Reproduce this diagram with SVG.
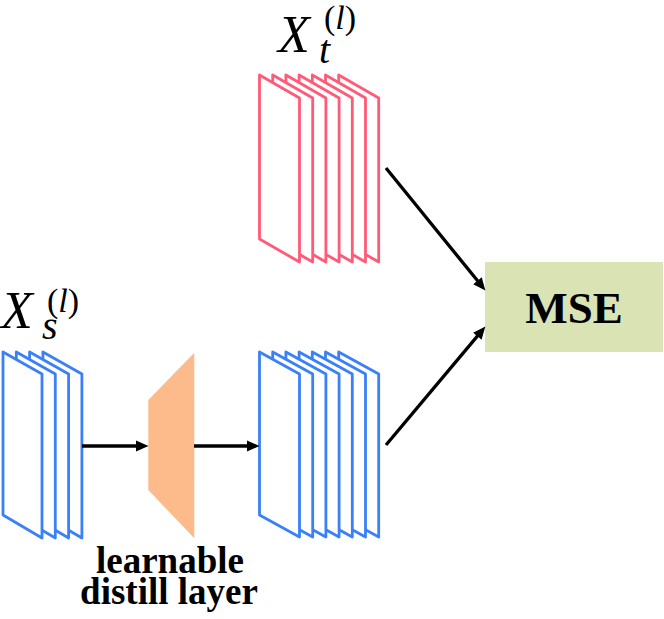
<svg xmlns="http://www.w3.org/2000/svg" xmlns:xlink="http://www.w3.org/1999/xlink" width="664" height="619" viewBox="0 0 664 619">
  <style>
    .pink { fill: #ffffff; stroke: #ff5a78; stroke-width: 2.8; stroke-linejoin: round; }
    .blue { fill: #ffffff; stroke: #3a80f6; stroke-width: 2.8; stroke-linejoin: round; }
    .conn { stroke: #000000; stroke-width: 3.3; fill: none; marker-end: url(#arrow); }
    text { font-family: 'Liberation Serif', 'Times New Roman', serif; fill: #000000; }
    .lbl { font-weight: bold; text-anchor: middle; }
    .it { font-style: italic; }
  </style>
  <defs>
    <marker id="arrow" markerUnits="userSpaceOnUse" markerWidth="13" markerHeight="12" viewBox="0 0 13 12" refX="4" refY="6" orient="auto">
      <path d="M0,0.5 L12.5,6 L0,11.5 z" fill="#000000"/>
    </marker>
    <polygon id="sheetT" class="pink" points="0,0 40,23 40,187 0,164"/>
    <polygon id="sheetB" class="blue" points="0,0 40,22 40,185 0,163"/>
    <polygon id="sheetS" class="blue" points="0,0 39,22 39,186 0,163"/>
  </defs>
  <rect width="664" height="619" fill="#ffffff"/>

  <g id="teacher-features">
    <use xlink:href="#sheetT" x="338.7" y="75"/>
    <use xlink:href="#sheetT" x="325.5" y="75"/>
    <use xlink:href="#sheetT" x="312.3" y="75"/>
    <use xlink:href="#sheetT" x="299.1" y="75"/>
    <use xlink:href="#sheetT" x="285.9" y="75"/>
    <use xlink:href="#sheetT" x="272.7" y="75"/>
    <use xlink:href="#sheetT" x="259.5" y="75"/>
    <text x="278" y="52"><tspan class="it" font-size="52">X</tspan><tspan class="it" font-size="40" x="319" y="63">t</tspan><tspan font-size="34" x="324" y="29">(</tspan><tspan class="it" font-size="34">l</tspan><tspan font-size="34">)</tspan></text>
  </g>

  <g id="student-features">
    <use xlink:href="#sheetS" x="42.9" y="352"/>
    <use xlink:href="#sheetS" x="29.6" y="352"/>
    <use xlink:href="#sheetS" x="16.3" y="352"/>
    <use xlink:href="#sheetS" x="3" y="352"/>
    <text x="1" y="328"><tspan class="it" font-size="52">X</tspan><tspan class="it" font-size="40" x="42" y="339">s</tspan><tspan font-size="34" x="47" y="312">(</tspan><tspan class="it" font-size="34">l</tspan><tspan font-size="34">)</tspan></text>
  </g>

  <g id="distill-layer">
    <polygon points="148.3,400 194.3,352.7 194.3,538.3 148.3,490" fill="#fdbb8c"/>
    <text class="lbl" x="170" y="573" font-size="37">learnable</text>
    <text class="lbl" x="169" y="604" font-size="37">distill layer</text>
  </g>

  <g id="distilled-features">
    <use xlink:href="#sheetB" x="338.7" y="352"/>
    <use xlink:href="#sheetB" x="325.5" y="352"/>
    <use xlink:href="#sheetB" x="312.3" y="352"/>
    <use xlink:href="#sheetB" x="299.1" y="352"/>
    <use xlink:href="#sheetB" x="285.9" y="352"/>
    <use xlink:href="#sheetB" x="272.7" y="352"/>
    <use xlink:href="#sheetB" x="259.5" y="352"/>
  </g>

  <g id="mse">
    <rect x="485" y="262" width="178" height="90" fill="#d9e3b4"/>
    <text class="lbl" x="574" y="323" font-size="45">MSE</text>
  </g>

  <g id="connectors">
    <line class="conn" x1="82" y1="446" x2="140" y2="446"/>
    <line class="conn" x1="194" y1="446" x2="251" y2="446"/>
    <line class="conn" x1="386" y1="168" x2="480" y2="283.8"/>
    <line class="conn" x1="386" y1="445" x2="479.9" y2="333.1"/>
  </g>
</svg>
